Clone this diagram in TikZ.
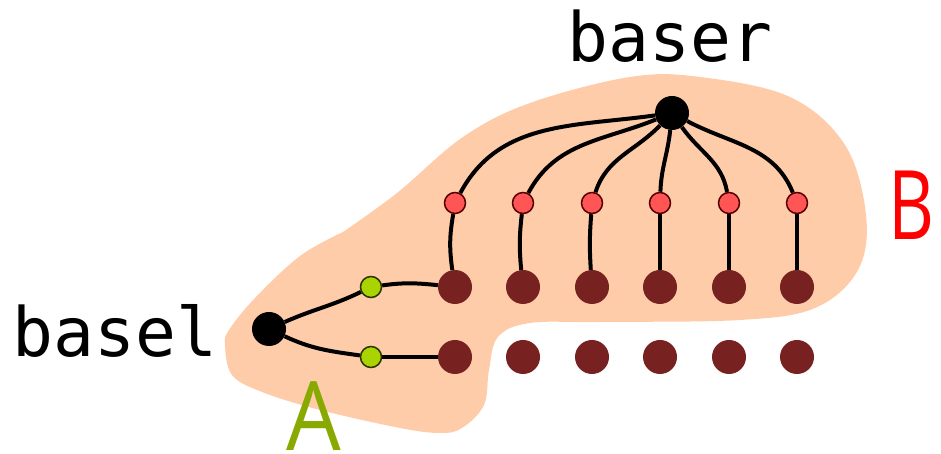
\documentclass[tikz,border=0pt]{standalone}
\usepackage{fontspec}
\newfontfamily\labelmono{DejaVu Sans Mono}
\newfontfamily\groupfont{Open Sans}
\definecolor{blobfill}{HTML}{FFCCAA}
\definecolor{leafred}{HTML}{782121}
\definecolor{midred}{HTML}{FF5555}
\definecolor{midredline}{HTML}{550000}
\definecolor{midgreen}{HTML}{AAD400}
\definecolor{midgreenline}{HTML}{2B3300}
\definecolor{groupA}{HTML}{88AA00}
\definecolor{groupB}{HTML}{FF0000}
\tikzset{
  rootdot/.style={circle,fill=black,inner sep=0pt,minimum size=34pt},
  leafdot/.style={circle,fill=leafred,inner sep=0pt,minimum size=34pt},
  reddot/.style={circle,fill=midred,draw=midredline,line width=1.5pt,inner sep=0pt,minimum size=21pt},
  greendot/.style={circle,fill=midgreen,draw=midgreenline,line width=1.5pt,inner sep=0pt,minimum size=21pt},
  link/.style={line width=4pt,black},
  monolabel/.style={font=\labelmono\fontsize{68}{68}\selectfont,inner sep=0pt,anchor=base},
  grouplabel/.style={font=\groupfont\fontsize{96}{96}\selectfont,inner sep=0pt,anchor=base}
}
\begin{document}
\begin{tikzpicture}[x=1pt,y=1pt]
\useasboundingbox (0,0) rectangle (941,454);

% shaded group region
\fill[blobfill] plot[smooth,tension=0.6] coordinates {
  (343,222) (397,261) (463,317) (530,351) (630,377) (700,377) (790,357)
  (845,309) (866,239) (858,184) (815,146) (740,134) (600,132) (530,131)
  (498,117) (489,84) (484,49) (462,26) (440,21) (400,26) (320,44)
  (262,62) (232,79) (225,109) (229,124) (255,156) (300,198) (343,222)} -- cycle;

% roots
\node[rootdot] (baser) at (672,341) {};
\node[rootdot] (basel) at (269,125) {};

% middle layer and leaves
\foreach \i/\x in {1/455,2/523,3/592,4/660,5/729,6/797}{
  \node[reddot] (r\i) at (\x,251) {};
  \node[leafdot] (u\i) at (\x,167) {};
  \node[leafdot] (d\i) at (\x,97) {};
}
\node[greendot] (g1) at (371,167) {};
\node[greendot] (g2) at (371,97) {};

% connectors from baser
\draw[link] (baser) to[out=188,in=62] (r1);
\draw[link] (baser) to[out=202,in=62] (r2);
\draw[link] (baser) to[out=226,in=72] (r3);
\draw[link] (baser) to[out=264,in=88] (r4);
\draw[link] (baser) to[out=-55,in=100] (r5);
\draw[link] (baser) to[out=-28,in=112] (r6);

\draw[link] (r1) to[bend right=9] (u1);
\draw[link] (r2) to[bend right=6] (u2);
\draw[link] (r3) to[bend right=4] (u3);
\draw[link] (r4) -- (u4);
\draw[link] (r5) -- (u5);
\draw[link] (r6) -- (u6);

% connectors from basel
\draw[link] (basel) to[out=24,in=206] (g1);
\draw[link] (basel) to[out=-25,in=172] (g2);
\draw[link] (g1) to[out=8,in=174] (u1);
\draw[link] (g2) -- (d1);

% labels
\node[monolabel] (tbaser) at (670,392) {baser};
\node[monolabel] (tbasel) at (115,97) {basel};
\node[grouplabel,text=groupA,xscale=0.9] (tA) at (314,3) {A};
\node[grouplabel,text=groupB,xscale=0.74] (tB) at (911,214) {B};
\end{tikzpicture}
\end{document}
